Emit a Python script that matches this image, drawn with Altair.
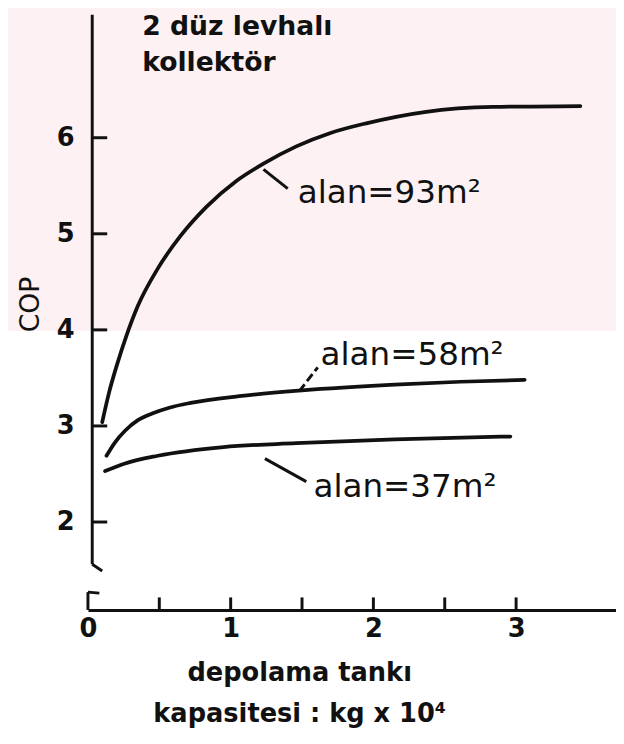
import altair as alt
import pandas as pd

# ---- data ----
x93 = [0.10, 0.15, 0.20, 0.27, 0.35, 0.49, 0.65, 0.83, 1.04, 1.23, 1.46, 1.70, 1.95, 2.37, 2.84, 3.45]
y93 = [3.04, 3.36, 3.62, 3.94, 4.25, 4.64, 4.98, 5.28, 5.55, 5.73, 5.91, 6.05, 6.15, 6.27, 6.32, 6.33]

x58 = [0.13, 0.19, 0.26, 0.35, 0.45, 0.57, 0.72, 1.06, 1.50, 2.15, 2.61, 3.06]
y58 = [2.69, 2.83, 2.95, 3.06, 3.13, 3.19, 3.24, 3.31, 3.37, 3.43, 3.46, 3.48]

x37 = [0.12, 0.26, 0.49, 0.95, 1.46, 2.15, 2.96]
y37 = [2.53, 2.61, 2.69, 2.78, 2.82, 2.86, 2.89]

series_names = ["alan=93m²", "alan=58m²", "alan=37m²"]
x_tick_labels = [0, 1, 2, 3]
x_minor_ticks = [0.5, 1.0, 1.5, 2.0, 2.5, 3.0]
y_tick_values = [2, 3, 4, 5, 6]

X_DOMAIN = [0, 3.7]
Y_DOMAIN = [1.085, 7.28]

rows = []
for name, xs_, ys_ in zip(series_names, [x93, x58, x37], [y93, y58, y37]):
    for i, (a, b) in enumerate(zip(xs_, ys_)):
        rows.append({"seri": name, "x": a, "y": b, "o": i})
curves = pd.DataFrame(rows)

xs = alt.Scale(domain=X_DOMAIN, nice=False, zero=False)
ys = alt.Scale(domain=Y_DOMAIN, nice=False, zero=False)

FONT = "DejaVu Sans"
INK = "#111111"

# watermark-like pale band in the upper part
bg = alt.Chart(pd.DataFrame({"x": [-0.62], "x2": [3.75], "y": [3.99], "y2": [7.45]})).mark_rect(
    color="#fef1f3", clip=False
).encode(
    x=alt.X("x:Q", scale=xs, axis=alt.Axis(
        values=x_tick_labels, format="d", ticks=False, grid=False, domain=True, domainColor=INK,
        domainWidth=3, zindex=1,
        labelFont=FONT, labelFontSize=26, labelFontWeight="bold", labelColor=INK, labelPadding=6,
        labelFlush=False,
        title=["depolama tankı", "kapasitesi : kg x 10⁴"], titleFont=FONT, titleFontSize=26,
        titleFontWeight="bold", titleColor=INK, titleX=214, titleY=51, titleAlign="center",
        titleBaseline="top", titleLineHeight=41)),
    x2="x2:Q",
    y=alt.Y("y:Q", scale=ys, axis=alt.Axis(
        values=y_tick_values, format="d", ticks=False, grid=False, domain=False, zindex=1,
        labelFont=FONT, labelFontSize=26, labelFontWeight="bold", labelColor=INK, labelPadding=14,
        title="COP", titleFont=FONT, titleFontSize=27, titleFontWeight="normal", titleColor=INK,
        titleX=-58, titleY=293, titleAlign="center", titleBaseline="middle", titleAngle=270)),
    y2="y2:Q",
)

lines = alt.Chart(curves).mark_line(interpolate="monotone", strokeWidth=3.8, strokeCap="round").encode(
    x=alt.X("x:Q", scale=xs),
    y=alt.Y("y:Q", scale=ys),
    detail="seri:N",
    order="o:Q",
    color=alt.Color("seri:N", scale=alt.Scale(domain=series_names, range=[INK, INK, INK]), legend=None),
)

# hand-drawn axis pieces
YAX_X = 0.03
axis_rules = pd.DataFrame([
    {"x": YAX_X, "x2": YAX_X, "y": 1.56, "y2": 7.28},   # y axis line (broken)
    {"x": YAX_X, "x2": 0.10, "y": 1.56, "y2": 1.49},    # bottom hook of y axis
    {"x": 0.0, "x2": 0.0, "y": Y_DOMAIN[0], "y2": 1.27},  # start hook of x axis
    {"x": 0.0, "x2": 0.08, "y": 1.27, "y2": 1.26},
])
axis_layer = alt.Chart(axis_rules).mark_rule(color=INK, strokeWidth=3, clip=False).encode(
    x=alt.X("x:Q", scale=xs), x2="x2:Q", y=alt.Y("y:Q", scale=ys), y2="y2:Q")

ytick_df = pd.DataFrame({"v": y_tick_values})
ytick_layer = alt.Chart(ytick_df).mark_rule(color=INK, strokeWidth=3).encode(
    x=alt.datum(YAX_X, scale=xs), x2=alt.datum(0.135), y=alt.Y("v:Q", scale=ys))

xtick_df = pd.DataFrame({"v": x_minor_ticks})
xtick_layer = alt.Chart(xtick_df).mark_rule(color=INK, strokeWidth=3).encode(
    x=alt.X("v:Q", scale=xs), y=alt.datum(Y_DOMAIN[0], scale=ys), y2=alt.datum(Y_DOMAIN[0] + 0.13))

# leader lines to curve labels
leaders = pd.DataFrame([
    {"x": 1.23, "y": 5.67, "x2": 1.40, "y2": 5.47, "k": "a"},
    {"x": 1.24, "y": 2.66, "x2": 1.53, "y2": 2.42, "k": "c"},
])
leader_layer = alt.Chart(leaders).mark_rule(color=INK, strokeWidth=3).encode(
    x=alt.X("x:Q", scale=xs), y=alt.Y("y:Q", scale=ys), x2="x2:Q", y2="y2:Q")
leader58 = alt.Chart(pd.DataFrame([{"x": 1.48, "y": 3.36, "x2": 1.61, "y2": 3.61}])).mark_rule(
    color=INK, strokeWidth=3, strokeDash=[9, 4]).encode(
    x=alt.X("x:Q", scale=xs), y=alt.Y("y:Q", scale=ys), x2="x2:Q", y2="y2:Q")

labels = pd.DataFrame([
    {"x": 1.47, "y": 5.42, "t": series_names[0]},
    {"x": 1.63, "y": 3.74, "t": series_names[1]},
    {"x": 1.58, "y": 2.36, "t": series_names[2]},
])
label_layer = alt.Chart(labels).mark_text(
    align="left", baseline="middle", font=FONT, fontSize=33, color=INK).encode(
    x=alt.X("x:Q", scale=xs), y=alt.Y("y:Q", scale=ys), text="t:N")

heading = pd.DataFrame([
    {"x": 0.38, "y": 7.15, "t": "2 düz  levhalı"},
    {"x": 0.38, "y": 6.78, "t": "kollektör"},
])
heading_layer = alt.Chart(heading).mark_text(
    align="left", baseline="middle", font=FONT, fontSize=27, fontWeight="bold", color=INK).encode(
    x=alt.X("x:Q", scale=xs), y=alt.Y("y:Q", scale=ys), text="t:N")

chart = alt.layer(
    bg, axis_layer, ytick_layer, xtick_layer, lines, leader_layer, leader58, label_layer, heading_layer
).properties(
    width=535, height=603,
    autosize=alt.AutoSizeParams(type="none"),
    padding={"left": 81, "top": 2, "right": 0, "bottom": 131},
    background="white",
).configure_view(stroke=None)

chart.save("out.html", embed_options={"renderer": "svg", "actions": False})
